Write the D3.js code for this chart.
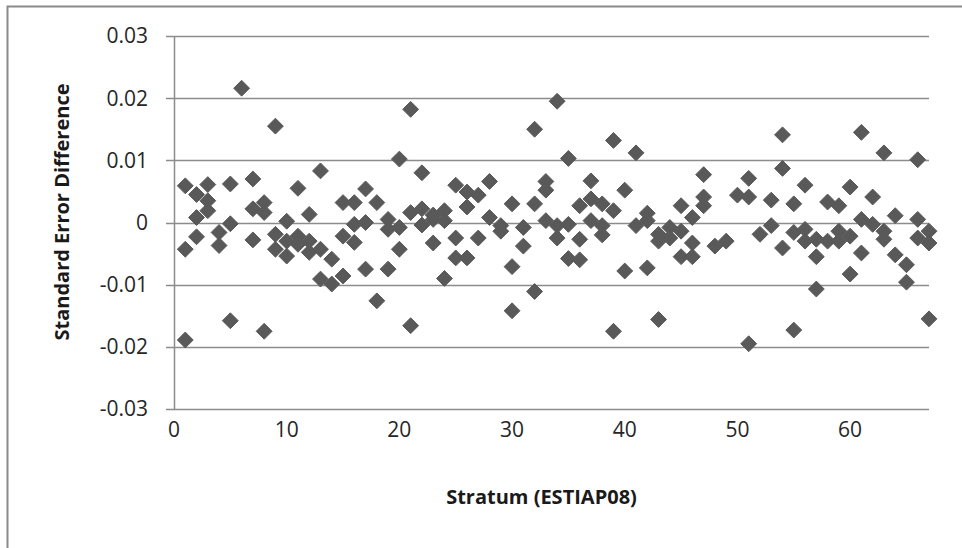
<!DOCTYPE html>
<html>
<head>
<meta charset="utf-8">
<script src="https://cdn.jsdelivr.net/npm/d3@7"></script>
<style>
  body { margin: 0; background: #fff; }
  svg text { font-family: "Open Sans", "Liberation Sans", sans-serif; fill: #262626; }
</style>
</head>
<body>
<div id="chart"></div>
<script>

// values, one row per stratum
var strata = [1,2,3,4,5,6,7,8,9,10,11,12,13,14,15,16,17,18,19,20,21,22,23,24,25,26,27,28,29,30,31,32,33,34,
              35,36,37,38,39,40,41,42,43,44,45,46,47,48,49,50,51,52,53,54,55,56,57,58,59,60,61,62,63,64,65,66,67];
var seDiff = [
    [0.0059, -0.0043, -0.0189],
    [0.0045, 0.0008, -0.0023],
    [0.0061, 0.0035, 0.0019],
    [-0.0016, -0.0037],
    [0.0062, -0.0002, -0.0158],
    [0.0216],
    [0.0070, 0.0022, -0.0028],
    [0.0032, 0.0016, -0.0175],
    [0.0155, -0.0019, -0.0043],
    [0.0002, -0.0054, -0.0030],
    [0.0055, -0.0022, -0.0035],
    [0.0013, -0.0030, -0.0048],
    [0.0083, -0.0043, -0.0091],
    [-0.0059, -0.0099],
    [0.0032, -0.0022, -0.0086],
    [0.0032, -0.0003, -0.0032],
    [0.0054, 0.0000, -0.0075],
    [0.0032, -0.0126],
    [0.0005, -0.0011, -0.0075],
    [0.0102, -0.0008, -0.0043],
    [0.0182, 0.0016, -0.0166],
    [0.0080, 0.0022, -0.0004],
    [0.0012, 0.0005, -0.0033],
    [0.0019, 0.0003, -0.0090],
    [0.0060, -0.0025, -0.0057],
    [0.0049, 0.0025, -0.0057],
    [0.0044, -0.0025],
    [0.0066, 0.0008],
    [-0.0005, -0.0014],
    [0.0030, -0.0071, -0.0142],
    [-0.0008, -0.0038],
    [0.0150, 0.0030, -0.0111],
    [0.0066, 0.0052, 0.0003],
    [0.0195, -0.0005, -0.0025],
    [0.0103, -0.0003, -0.0058],
    [0.0027, -0.0027, -0.0060],
    [0.0067, 0.0038, 0.0003],
    [0.0030, -0.0005, -0.0020],
    [0.0132, 0.0019, -0.0175],
    [0.0052, -0.0078],
    [0.0112, -0.0005],
    [0.0015, 0.0003, -0.0073],
    [-0.0019, -0.0030, -0.0156],
    [-0.0008, -0.0025],
    [0.0027, -0.0014, -0.0055],
    [0.0008, -0.0033, -0.0055],
    [0.0077, 0.0041, 0.0027],
    [-0.0038],
    [-0.0030],
    [0.0044],
    [0.0071, 0.0041, -0.0195],
    [-0.0019],
    [0.0036, -0.0005],
    [0.0141, 0.0087, -0.0041],
    [0.0030, -0.0016, -0.0173],
    [0.0060, -0.0011, -0.0030],
    [-0.0027, -0.0055, -0.0107],
    [0.0033, -0.0030],
    [0.0027, -0.0014, -0.0030],
    [0.0057, -0.0022, -0.0083],
    [0.0145, 0.0005, -0.0049],
    [0.0041, -0.0003],
    [0.0112, -0.0014, -0.0027],
    [0.0011, -0.0052],
    [-0.0068, -0.0096],
    [0.0101, 0.0005, -0.0025],
    [-0.0014, -0.0033, -0.0155]
];
var xTicks = [0, 10, 20, 30, 40, 50, 60];
var yTicks = [-0.03, -0.02, -0.01, 0, 0.01, 0.02, 0.03];

var width = 962, height = 548;
var margin = {top: 36, right: 33, bottom: 139, left: 174};

var svg = d3.select('#chart').append('svg')
    .attr('width', width)
    .attr('height', height);

// outer chart border (only left/top visible in the crop)
svg.append('rect')
    .attr('x', 7.5).attr('y', 6.5)
    .attr('width', 980).attr('height', 600)
    .style('fill', 'none')
    .style('stroke', '#8a8a8a')
    .style('stroke-width', '2px');

var x = d3.scaleLinear().domain([0, 67]).range([margin.left, width - margin.right]);
var y = d3.scaleLinear().domain([-0.03, 0.03]).range([height - margin.bottom, margin.top]);

// horizontal gridlines + left ticks
svg.append('g')
    .selectAll('line')
    .data(yTicks).enter()
    .append('line')
    .attr('x1', margin.left - 8)
    .attr('x2', x(67))
    .attr('y1', function(d){ return Math.round(y(d)) + 0.5; })
    .attr('y2', function(d){ return Math.round(y(d)) + 0.5; })
    .style('stroke', '#8c8c8c')
    .style('stroke-width', '1.5px');

// vertical axis line
svg.append('line')
    .attr('x1', x(0) + 0.5).attr('x2', x(0) + 0.5)
    .attr('y1', y(0.03)).attr('y2', y(-0.03))
    .style('stroke', '#8c8c8c')
    .style('stroke-width', '1.5px');

// y tick labels
svg.append('g')
    .selectAll('text')
    .data(yTicks).enter()
    .append('text')
    .attr('x', 148)
    .attr('y', function(d){ return y(d); })
    .attr('dy', '0.35em')
    .attr('text-anchor', 'end')
    .style('font-size', '21px')
    .text(function(d){ return d === 0 ? '0' : d3.format('.2f')(d).replace('−', '-'); });

// x tick labels
svg.append('g')
    .selectAll('text')
    .data(xTicks).enter()
    .append('text')
    .attr('x', function(d){ return x(d); })
    .attr('y', 430)
    .attr('dy', '0.35em')
    .attr('text-anchor', 'middle')
    .style('font-size', '21px')
    .text(function(d){ return d; });

// axis titles
svg.append('text')
    .attr('transform', 'translate(62,' + 212 + ') rotate(-90)')
    .attr('text-anchor', 'middle')
    .attr('dy', '0.35em')
    .style('font-size', '20px')
    .style('font-weight', 'bold')
    .style('fill', '#1a1a1a')
    .text('Standard Error Difference');

svg.append('text')
    .attr('x', (x(0) + x(67)) / 2 - 10)
    .attr('y', 497)
    .attr('dy', '0.35em')
    .attr('text-anchor', 'middle')
    .style('font-size', '20px')
    .style('font-weight', 'bold')
    .style('fill', '#1a1a1a')
    .text('Stratum (ESTIAP08)');

// flatten to points
var points = [];
strata.forEach(function(s, i){
    seDiff[i].forEach(function(v){ points.push({s: s, v: v}); });
});

var diamond = d3.symbol().type(d3.symbolDiamond2).size(160);

svg.append('g')
    .selectAll('path')
    .data(points).enter()
    .append('path')
    .attr('transform', function(d){ return 'translate(' + x(d.s) + ',' + y(d.v) + ')'; })
    .attr('d', diamond)
    .style('fill', '#595959')
    .style('stroke', '#595959')
    .style('stroke-width', '1px');

</script>
</body>
</html>
